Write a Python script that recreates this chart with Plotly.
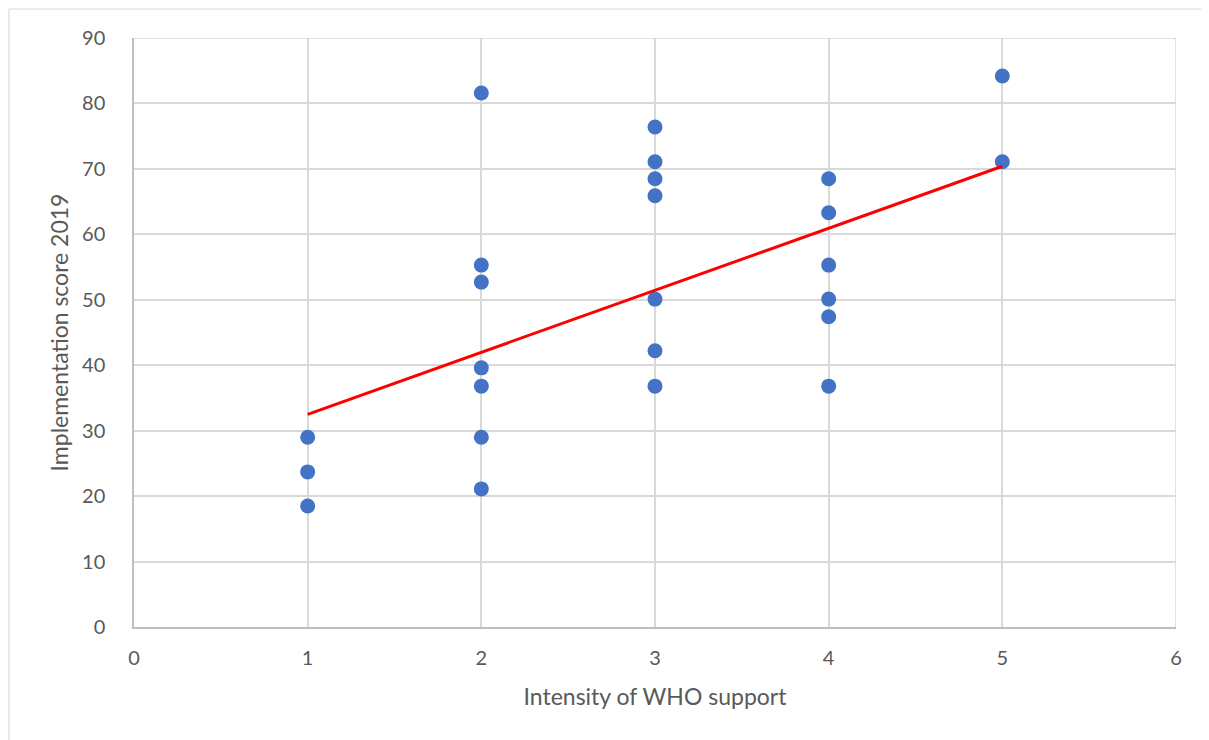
import plotly.graph_objects as go

# Data
support_x = [1, 1, 1,
             2, 2, 2, 2, 2, 2, 2,
             3, 3, 3, 3, 3, 3, 3,
             4, 4, 4, 4, 4, 4,
             5, 5]
score_y = [29.0, 23.7, 18.5,
           81.6, 55.3, 52.7, 39.6, 36.8, 29.0, 21.1,
           76.4, 71.1, 68.5, 65.9, 50.1, 42.2, 36.8,
           68.5, 63.3, 55.3, 50.1, 47.4, 36.8,
           84.2, 71.1]
trend_x = [1, 5]
trend_y = [32.5, 70.4]

# page has an 8px body margin, so the figure is sized to fit the 1209x740 window
W, H = 1201, 732
ml, mr, mt, mb = 126, 33, 30, 113
font_family = "Lato, Open Sans, sans-serif"
text_color = "#595959"

fig = go.Figure()
fig.add_trace(go.Scatter(
    x=support_x, y=score_y, mode="markers",
    marker=dict(size=15, color="#4472C4", line=dict(width=0)),
    showlegend=False, hoverinfo="x+y"))
fig.add_trace(go.Scatter(
    x=trend_x, y=trend_y, mode="lines",
    line=dict(color="#FF0000", width=3),
    showlegend=False))

# outer chart border (left and top edges only are visible in the window)
pw = W - ml - mr
ph = H - mt - mb
x_left = (1 - ml) / pw
y_top = (H - mb - 1) / ph
fig.add_shape(type="line", xref="paper", yref="paper",
              x0=x_left, x1=x_left, y0=(H - mb - (H + 20)) / ph, y1=y_top,
              line=dict(color="#d9d9d9", width=1.2), layer="below")
fig.add_shape(type="line", xref="paper", yref="paper",
              x0=x_left, x1=(W + 20 - ml) / pw, y0=y_top, y1=y_top,
              line=dict(color="#d9d9d9", width=1.2), layer="below")

fig.update_layout(
    width=W, height=H,
    margin=dict(l=ml, r=mr, t=mt, b=mb, pad=0),
    paper_bgcolor="white", plot_bgcolor="white",
    font=dict(family=font_family, color=text_color, size=20),
    xaxis=dict(range=[0, 6], dtick=1, tick0=0,
               showgrid=True, gridcolor="#d9d9d9", gridwidth=1.5,
               zeroline=False, showline=True, linecolor="#bfbfbf", linewidth=1.5,
               ticks="", ticklabelstandoff=12,
               tickfont=dict(size=20, color=text_color),
               title=dict(text="Intensity of WHO support",
                          font=dict(size=23, color=text_color), standoff=21)),
    yaxis=dict(range=[0, 90], dtick=10, tick0=0,
               showgrid=True, gridcolor="#d9d9d9", gridwidth=1.5,
               zeroline=False, showline=True, linecolor="#bfbfbf", linewidth=1.5,
               ticks="", ticklabelstandoff=23,
               tickfont=dict(size=20, color=text_color),
               title=dict(text="Implementation score 2019",
                          font=dict(size=23, color=text_color), standoff=7)),
)
fig.add_shape(type="line", xref="x", yref="y", x0=6, x1=6, y0=0, y1=90,
              line=dict(color="#d9d9d9", width=1.5), layer="below")
fig.add_shape(type="line", xref="x", yref="y", x0=0, x1=6, y0=90, y1=90,
              line=dict(color="#d9d9d9", width=1.5), layer="below")

fig.write_html("out.html")
